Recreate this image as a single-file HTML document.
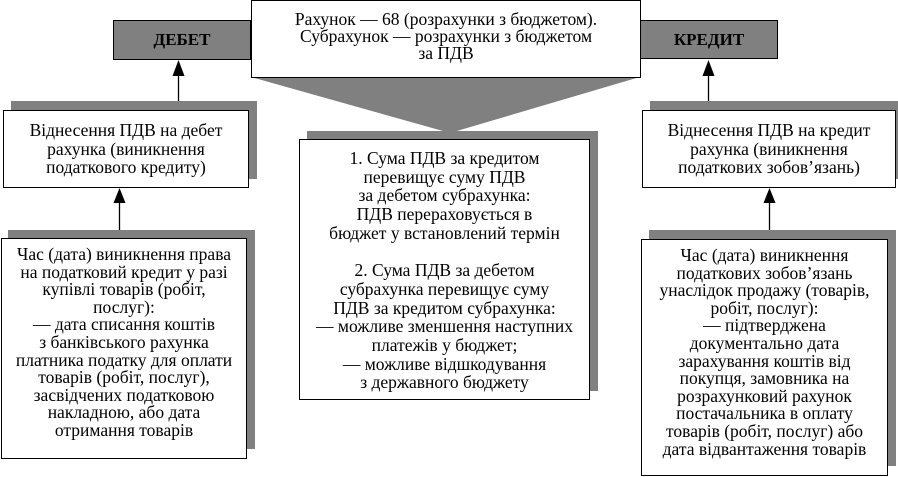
<!DOCTYPE html>
<html><head><meta charset="utf-8"><style>
body{margin:0;width:898px;height:477px;background:#fff;position:relative;overflow:hidden;font-family:"Liberation Serif","DejaVu Serif",serif;color:#000}
.b{position:absolute;background:#fff;border:1px solid #000;box-sizing:border-box;text-align:center;font-size:17.5px;line-height:18.7px;white-space:nowrap}
.s{position:absolute;background:#808080}
.h{position:absolute;background:#808080;border:1px solid #000;box-sizing:border-box;text-align:center;font-weight:bold;font-size:17px;line-height:37px}
</style></head><body>
<svg width="898" height="477" style="position:absolute;left:0;top:0">
<polygon points="251,77 640,77 450,133" fill="#808080"/>
<g stroke="#000" stroke-width="1.3">
<line x1="178.5" y1="110" x2="178.5" y2="70"/>
<line x1="708.5" y1="110" x2="708.5" y2="70"/>
<line x1="119.5" y1="238" x2="119.5" y2="200"/>
<line x1="769.5" y1="239" x2="769.5" y2="200"/>
</g>
<polygon points="178.5,60 172.5,76 184.5,76" fill="#000"/>
<polygon points="708.5,60 702.5,76 714.5,76" fill="#000"/>
<polygon points="119.5,188 113.5,203 125.5,203" fill="#000"/>
<polygon points="769.5,188 763.5,203 775.5,203" fill="#000"/>
</svg>
<div class="h" style="left:113px;top:20px;width:138px;height:40px">ДЕБЕТ</div>
<div class="h" style="left:640px;top:20px;width:138px;height:39px">КРЕДИТ</div>
<div class="b" style="left:251px;top:0;width:390px;height:78px;padding-top:10px;line-height:17px">Рахунок — 68 (розрахунки з бюджетом).<br>Субрахунок — розрахунки з бюджетом<br>за ПДВ</div>

<div class="s" style="left:11px;top:101px;width:246px;height:78px"></div>
<div class="b" style="left:3px;top:110px;width:246px;height:78px;padding-top:10px">Віднесення ПДВ на дебет<br>рахунка (виникнення<br>податкового кредиту)</div>

<div class="s" style="left:650px;top:101px;width:248px;height:78px"></div>
<div class="b" style="left:642px;top:110px;width:254px;height:78px;padding-top:10px">Віднесення ПДВ на кредит<br>рахунка (виникнення<br>податкових зобов’язань)</div>

<div class="s" style="left:307px;top:131px;width:291px;height:260px"></div>
<div class="b" style="left:299px;top:139px;width:291px;height:261px;padding-top:9px">1. Сума ПДВ за кредитом<br>перевищує суму ПДВ<br>за дебетом субрахунка:<br>ПДВ перераховується в<br>бюджет у встановлений термін<br><br>2. Сума ПДВ за дебетом<br>субрахунка перевищує суму<br>ПДВ за кредитом субрахунка:<br>— можливе зменшення наступних<br>платежів у бюджет;<br>— можливе відшкодування<br>з державного бюджету</div>

<div class="s" style="left:8px;top:230px;width:247px;height:219px"></div>
<div class="b" style="left:1px;top:238px;width:246px;height:221px;padding-top:7px;line-height:17.6px">Час (дата) виникнення права<br>на податковий кредит у разі<br>купівлі товарів (робіт,<br>послуг):<br>— дата списання коштів<br>з банківського рахунка<br>платника податку для оплати<br>товарів (робіт, послуг),<br>засвідчених податковою<br>накладною, або дата<br>отримання товарів</div>

<div class="s" style="left:649px;top:230px;width:247px;height:236px"></div>
<div class="b" style="left:641px;top:239px;width:247px;height:237px;padding-top:7px;line-height:17.6px">Час (дата) виникнення<br>податкових зобов’язань<br>унаслідок продажу (товарів,<br>робіт, послуг):<br>— підтверджена<br>документально дата<br>зарахування коштів від<br>покупця, замовника на<br>розрахунковий рахунок<br>постачальника в оплату<br>товарів (робіт, послуг) або<br>дата відвантаження товарів</div>
</body></html>
